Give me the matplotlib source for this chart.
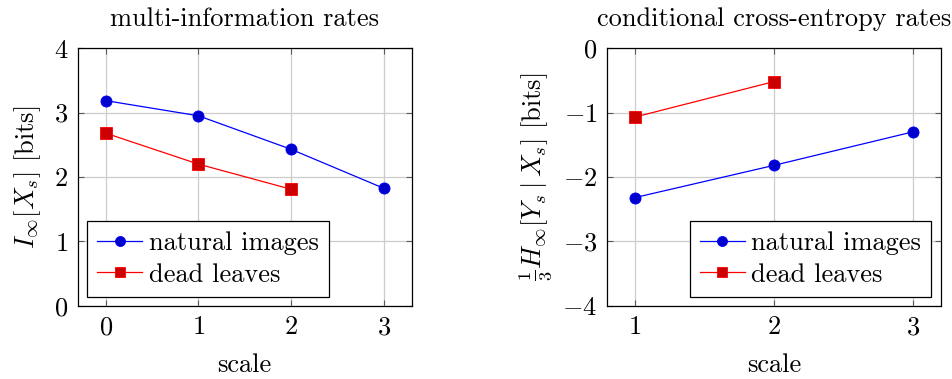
import matplotlib
matplotlib.use("Agg")
import matplotlib.pyplot as plt

plt.rcParams['font.family'] = ['cmr10', 'DejaVu Serif']
plt.rcParams['mathtext.fontset'] = 'cm'
plt.rcParams['axes.formatter.use_mathtext'] = True
plt.rcParams['axes.unicode_minus'] = True

# Left panel data
scales_left = [0, 1, 2, 3]
mi_natural = [3.185, 2.95, 2.43, 1.825]
scales_left_dead = [0, 1, 2]
mi_dead = [2.68, 2.20, 1.81]

# Right panel data
scales_right = [1, 2, 3]
ce_natural = [-2.32, -1.82, -1.30]
scales_right_dead = [1, 2]
ce_dead = [-1.07, -0.52]

labels = ["natural images", "dead leaves"]
blue_line = (0, 0, 1)
blue_fill = (0, 0, 0.8)
red_line = (1, 0, 0)
red_fill = (0.8, 0, 0)

fig = plt.figure(figsize=(9.53, 3.79), dpi=100)
axL = fig.add_axes([0.0818, 0.193, 0.350, 0.680])
axR = fig.add_axes([0.637, 0.193, 0.350, 0.680])

FS = 19

def style(ax):
    ax.grid(True, color=(0.8, 0.8, 0.8), linewidth=0.9)
    ax.set_axisbelow(True)
    ax.tick_params(direction='in', top=True, right=True, length=4, width=0.8,
                   labelsize=FS, pad=7, color=(0.35, 0.35, 0.35))
    for s in ax.spines.values():
        s.set_linewidth(0.9)
        s.set_color('black')

def legend(ax, loc):
    leg = ax.legend(loc=loc, fontsize=FS, fancybox=False, framealpha=1,
                    edgecolor='black', handlelength=1.7, borderaxespad=0.35,
                    handletextpad=0.25, borderpad=0.38, labelspacing=0.3,
                    markerscale=0.9)
    leg.get_frame().set_linewidth(0.9)

# Left
axL.plot(scales_left, mi_natural, color=blue_line, lw=0.9, marker='o', ms=8,
         mfc=blue_fill, mec=blue_line, mew=0.6, label=labels[0])
axL.plot(scales_left_dead, mi_dead, color=red_line, lw=0.9, marker='s', ms=8,
         mfc=red_fill, mec=red_line, mew=0.6, label=labels[1])
axL.set_xlim(-0.3, 3.3)
axL.set_ylim(0, 4)
axL.set_xticks([0, 1, 2, 3])
axL.set_yticks([0, 1, 2, 3, 4])
style(axL)
axL.set_title("multi-information rates", fontsize=FS, pad=12, va='bottom')
axL.set_xlabel("scale", fontsize=FS, labelpad=10)
axL.set_ylabel(r"$I_\infty[X_s]$ [bits]", fontsize=FS, labelpad=8)
legend(axL, 'lower left')

# Right
axR.plot(scales_right, ce_natural, color=blue_line, lw=0.9, marker='o', ms=8,
         mfc=blue_fill, mec=blue_line, mew=0.6, label=labels[0])
axR.plot(scales_right_dead, ce_dead, color=red_line, lw=0.9, marker='s', ms=8,
         mfc=red_fill, mec=red_line, mew=0.6, label=labels[1])
axR.set_xlim(0.8, 3.2)
axR.set_ylim(-4, 0)
axR.set_xticks([1, 2, 3])
axR.set_yticks([-4, -3, -2, -1, 0])
style(axR)
axR.set_title("conditional cross-entropy rates", fontsize=FS, pad=12, va='bottom')
axR.set_xlabel("scale", fontsize=FS, labelpad=10)
axR.set_ylabel(r"$\frac{1}{3}H_\infty[Y_s \mid X_s]$ [bits]", fontsize=FS, labelpad=6)
legend(axR, 'lower right')

fig.savefig("out.png", dpi=100)
